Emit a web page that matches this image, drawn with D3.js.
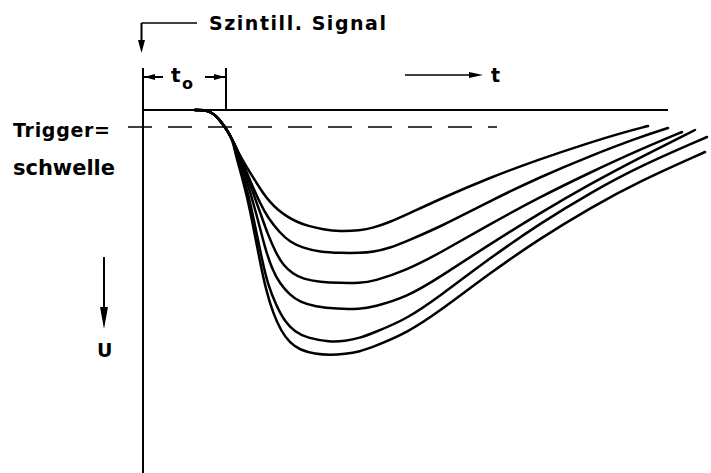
<!DOCTYPE html>
<html>
<head>
<meta charset="utf-8">
<script src="https://cdn.jsdelivr.net/npm/d3@7"></script>
<style>
  html, body { margin: 0; padding: 0; background: #fff; }
  text { font-family: "DejaVu Sans", sans-serif; font-weight: bold; fill: #000; }
</style>
</head>
<body>
<div id="chart"></div>
<script>
// time t (arb. units) and pulse height U (arb. units, grows downward)
const onset = [[10.4, 0], [12.2, 0], [13.6, 0.4], [14.8, 1.4], [15.8, 2.6], [16.8, 4], [18, 6.2]];

const pulse1 = [[19, 8.4], [20.6, 11.2], [22.4, 14.1], [24, 16.6], [25.4, 18.4], [27, 20], [28.8, 21.3], [30.8, 22.4], [33, 23.2], [36, 23.9], [39.4, 24.3], [43.4, 24.1], [46, 23.6], [49.4, 22.4], [52.8, 20.9], [59.4, 17.8], [69.4, 13.5], [79.4, 9.8], [89.4, 6.5], [96, 4.5], [101, 3.2]];
const pulse2 = [[19, 8.4], [20.4, 11.6], [21.8, 15], [23.4, 18.6], [25, 21.6], [27.4, 24.6], [29.4, 26.4], [32, 27.6], [35.4, 28.4], [39.4, 28.6], [43.4, 28.6], [46, 28.4], [49.4, 27.6], [52.8, 26.2], [59.4, 23.4], [69.4, 18.2], [79.4, 13.4], [89.4, 9.2], [99.4, 5.4], [105, 3.6]];
const pulse3 = [[19, 8.4], [20.4, 12], [21.8, 16], [23.4, 20.4], [25, 25], [26.6, 28.6], [28, 31], [30, 32.8], [32, 33.8], [35.4, 34.4], [39.4, 34.6], [43.4, 34.6], [46, 34.3], [52.8, 32], [59.4, 28.6], [69.4, 22.8], [79.4, 17.4], [89.4, 12.5], [99.4, 7.9], [107.8, 4.4]];
const pulse4 = [[19, 8.4], [20.2, 12.4], [21.6, 17], [23, 22], [24.4, 27.6], [25.8, 31.8], [27.4, 34.8], [29.4, 37], [31.4, 38.4], [34.4, 39.3], [38.8, 39.8], [43.4, 39.8], [46, 39.4], [52.8, 37.4], [59.4, 33.4], [69.4, 26.8], [79.4, 20.6], [89.4, 14.8], [99.4, 9.5], [110.4, 4]];
const pulse5 = [[18.6, 8.4], [19.8, 12.4], [21, 16.6], [22.4, 23], [23.8, 30], [25, 35], [26.6, 39], [28.4, 42.4], [30.4, 44.4], [32.8, 45.6], [37.4, 46.4], [40.4, 46.2], [43.4, 45.6], [46, 44.6], [52.8, 41.8], [59.4, 37.2], [69.4, 29.6], [79.4, 22.7], [89.4, 16.6], [99.4, 11.2], [112.8, 5.4]];
const pulse6 = [[18.4, 8.4], [19.4, 12], [20.6, 16.4], [22, 23], [23.4, 30.4], [24.6, 36], [26, 40.6], [27.6, 44.2], [29.4, 46.6], [31.4, 48], [34.4, 48.8], [37.4, 49], [40.4, 48.8], [43.4, 48.3], [46, 47.4], [52.8, 44.6], [59.4, 40.2], [69.4, 32.6], [79.4, 25.7], [89.4, 19.6], [99.4, 14.2], [112.4, 8.4]];

const pulses = [pulse1, pulse2, pulse3, pulse4, pulse5, pulse6];

const t0 = 16.6;          // delay between signal and threshold
const threshold = 3.4;    // Triggerschwelle
const baselineEnd = 105;
const thresholdSpan = [-3, 70.8];

const width = 711, height = 473;

const x = d3.scaleLinear().domain([0, 114]).range([143, 713]);
const y = d3.scaleLinear().domain([0, 72]).range([110, 470]);

const svg = d3.select("#chart")
    .append("svg")
    .attr("width", width)
    .attr("height", height);

svg.append("rect")
    .attr("width", width)
    .attr("height", height)
    .attr("fill", "#fff");

// filled arrow head, tip at (tx,ty), pointing along (dx,dy)
function arrowHead(tx, ty, dx, dy, len, w) {
    let n = Math.hypot(dx, dy);
    let ux = dx / n, uy = dy / n;
    let bx = tx - ux * len, by = ty - uy * len;
    let px = -uy * w / 2, py = ux * w / 2;
    svg.append("path")
        .attr("d", `M${tx},${ty}L${bx + px},${by + py}L${bx - px},${by - py}Z`)
        .attr("fill", "#000");
}

function line(x1, y1, x2, y2, sw, dash) {
    let l = svg.append("line")
        .attr("x1", x1).attr("y1", y1)
        .attr("x2", x2).attr("y2", y2)
        .attr("stroke", "#000")
        .attr("stroke-width", sw);
    if (dash) l.attr("stroke-dasharray", dash);
    return l;
}

// U axis (vertical) and baseline
line(x(0), y(-8.4), x(0), height, 2);
line(x(0), y(0), x(baselineEnd), y(0), 2);

// trigger threshold
line(x(thresholdSpan[0]), y(threshold), x(thresholdSpan[1]), y(threshold), 1.6, "24,16");

// pulses
const pulseLine = d3.line()
    .x(d => x(d[0]))
    .y(d => y(d[1]))
    .curve(d3.curveBasis);

svg.selectAll("path.pulse")
    .data(pulses)
    .enter()
    .append("path")
    .attr("class", "pulse")
    .attr("d", d => pulseLine(onset.concat(d)))
    .attr("fill", "none")
    .attr("stroke", "#000")
    .attr("stroke-width", 2.5)
    .attr("stroke-linecap", "round");

// "Szintill. Signal" pointer
line(x(-0.3), 23, x(10.8), 23, 1.6);
line(x(-0.3), 23, x(-0.3), 44, 2);
arrowHead(x(-0.3), 53, 0, 1, 13, 7);
svg.append("text")
    .attr("x", 209)
    .attr("y", 30)
    .attr("font-size", 19)
    .attr("textLength", 177)
    .attr("lengthAdjust", "spacing")
    .text("Szintill. Signal");

// t0 bracket
line(x(t0), y(-8.4), x(t0), y(0), 2);
line(x(0), 77, x(4), 77, 2);
arrowHead(x(0) + 1, 77, -1, 0, 11, 6);
line(x(12.4), 77, x(t0), 77, 2);
arrowHead(x(t0) - 1, 77, 1, 0, 11, 6);
svg.append("text")
    .attr("x", 171)
    .attr("y", 82)
    .attr("font-size", 20)
    .text("t");
svg.append("text")
    .attr("x", 182)
    .attr("y", 89)
    .attr("font-size", 16)
    .text("o");

// time arrow
line(405, 75, 472, 75, 1.6);
arrowHead(483, 75, 1, 0, 14, 6);
svg.append("text")
    .attr("x", 491)
    .attr("y", 82)
    .attr("font-size", 19)
    .text("t");

// threshold label
svg.append("text")
    .attr("x", 13)
    .attr("y", 137)
    .attr("font-size", 19)
    .attr("textLength", 97)
    .attr("lengthAdjust", "spacing")
    .text("Trigger=");
svg.append("text")
    .attr("x", 13)
    .attr("y", 175)
    .attr("font-size", 21)
    .attr("textLength", 102)
    .attr("lengthAdjust", "spacing")
    .text("schwelle");

// U arrow
line(104, 257, 104, 312, 2);
arrowHead(104, 329, 0, 1, 22, 8);
svg.append("text")
    .attr("x", 97)
    .attr("y", 357)
    .attr("font-size", 19)
    .text("U");
</script>
</body>
</html>
